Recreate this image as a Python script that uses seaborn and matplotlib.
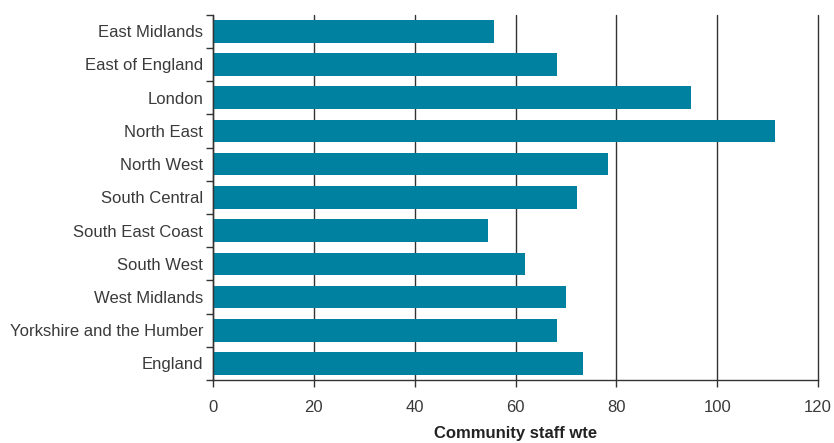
import pandas as pd
import numpy as np
import matplotlib
matplotlib.use("Agg")
import matplotlib.pyplot as plt
import seaborn as sns

regions = ["East Midlands", "East of England", "London", "North East", "North West",
           "South Central", "South East Coast", "South West", "West Midlands",
           "Yorkshire and the Humber", "England"]
staff_wte = [55.7, 68.2, 94.8, 111.5, 78.3, 72.2, 54.5, 61.8, 70.0, 68.2, 73.4]
x_ticks = [0, 20, 40, 60, 80, 100, 120]

df = pd.DataFrame({"region": regions, "wte": staff_wte})

sns.set_style("white")
plt.rcParams["font.family"] = ["Liberation Sans", "DejaVu Sans"]

fig = plt.figure(figsize=(8.34, 4.43), dpi=100)
ax = fig.add_axes([0.2554, 0.142, 0.7256, 0.825])

sns.barplot(data=df, y="region", x="wte", orient="h", color="#00819F",
            saturation=1, width=0.68, linewidth=0, ax=ax)

ax.set_xlim(0, 120)
ax.set_ylim(len(regions) - 0.5, -0.5)
ax.set_xticks(x_ticks)
ax.set_xticklabels([str(t) for t in x_ticks])
ax.xaxis.grid(True, color="#333333", linewidth=1)
for gl in ax.get_xgridlines():
    gl.set_clip_on(False)
ax.set_axisbelow(True)

# category ticks sit between the bars
ax.set_yticks(np.arange(len(regions) + 1) - 0.5, minor=True)
ax.tick_params(axis="y", which="major", left=False, length=0, labelsize=12,
               labelcolor="#3a3a3a", pad=7)
ax.tick_params(axis="y", which="minor", left=True, length=5, width=1, color="#333333", direction="out")
ax.tick_params(axis="x", length=5, width=1, color="#333333", labelsize=12,
               labelcolor="#3a3a3a", pad=9, bottom=True)

for side in ["top", "right"]:
    ax.spines[side].set_visible(False)
for side in ["left", "bottom"]:
    ax.spines[side].set_color("#333333")
    ax.spines[side].set_linewidth(1)

ax.set_ylabel("")
ax.set_xlabel("Community staff wte", fontsize=12, fontweight="bold", color="#222222", labelpad=8)

fig.savefig("out.png", dpi=100)
